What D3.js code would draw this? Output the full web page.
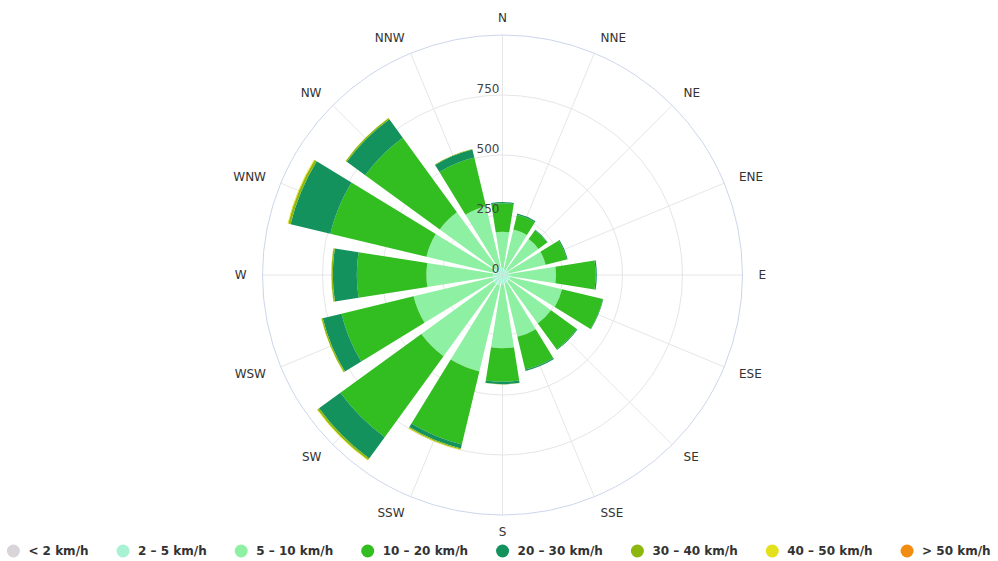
<!DOCTYPE html>
<html>
<head>
<meta charset="utf-8">
<script src="https://cdn.jsdelivr.net/npm/d3@7"></script>
<style>
  body { margin: 0; background: #fff; }
  text { font-family: "DejaVu Sans", sans-serif; }
</style>
</head>
<body>
<svg id="chart"></svg>
<script>
// wind directions, clockwise from north
const directions = ["N","NNE","NE","ENE","E","ESE","SE","SSE","S","SSW","SW","WSW","W","WNW","NW","NNW"];
const speedNames = ["< 2 km/h","2 – 5 km/h","5 – 10 km/h","10 – 20 km/h","20 – 30 km/h","30 – 40 km/h","40 – 50 km/h","> 50 km/h"];
const speedColors = ["#d8d4d8","#a8f2d4","#8ef0a2","#32bd20","#13925e","#8cb70c","#e3e01c","#f28c10"];
const radialTicks = [0, 250, 500, 750];

// counts per direction for each speed band
const below2  = [4,3,3,3,4,4,4,4,5,6,6,6,5,5,5,4];
const s2to5   = [25,22,22,24,28,30,30,32,35,40,40,38,34,34,32,30];
const s5to10  = [151,170,160,158,191,221,216,229,265,367,372,337,278,287,286,261];
const s10to20 = [119,63,45,90,165,175,133,140,140,313,417,309,290,412,384,208];
const s20to30 = [5,5,3,4,5,2,3,6,10,17,110,80,100,170,95,35];
const s30to40 = [0,0,0,0,0,0,0,0,1,5,8,6,6,10,6,2];
const s40to50 = [0,0,0,0,0,0,0,0,0,2,3,1,1,3,1,0];
const above50 = [0,0,0,0,0,0,0,0,0,0,0,0,0,0,0,0];

const W = 998, H = 561;
const cx = 502.5, cy = 275, outerR = 240;

const svg = d3.select("#chart").attr("width", W).attr("height", H);

const bands = [below2, s2to5, s5to10, s10to20, s20to30, s30to40, s40to50, above50];
const table = directions.map((d, i) => {
  const row = {dir: d};
  speedNames.forEach((k, j) => row[k] = bands[j][i]);
  return row;
});
const stacked = d3.stack().keys(speedNames)(table);

const r = d3.scaleLinear().domain([0, 1000]).range([0, outerR]);
const step = 2 * Math.PI / directions.length;
const angle = d3.scalePoint().domain(directions).range([0, 2 * Math.PI - step]);
const half = step * 0.4;

const g = svg.append("g").attr("transform", `translate(${cx},${cy})`);

// grid circles
g.selectAll("circle.grid")
  .data(radialTicks.filter(t => t > 0))
  .join("circle")
  .attr("r", d => r(d))
  .attr("fill", "none")
  .attr("stroke", "#e6e6e6");

// spokes
g.selectAll("line.spoke")
  .data(directions)
  .join("line")
  .attr("x1", 0).attr("y1", 0)
  .attr("x2", d => outerR * Math.sin(angle(d)))
  .attr("y2", d => -outerR * Math.cos(angle(d)))
  .attr("stroke", "#e6e6e6");

// outer axis circle
g.append("circle")
  .attr("r", outerR)
  .attr("fill", "none")
  .attr("stroke", "#ccd6eb");

const arc = d3.arc()
  .innerRadius(d => r(d[0]))
  .outerRadius(d => r(d[1]))
  .startAngle(d => angle(d.data.dir) - half)
  .endAngle(d => angle(d.data.dir) + half);

g.selectAll("g.series")
  .data(stacked)
  .join("g")
  .attr("fill", (d, i) => speedColors[i])
  .selectAll("path")
  .data(d => d.filter(p => p[1] > p[0]))
  .join("path")
  .attr("d", arc);

// radial tick labels
g.selectAll("text.tick")
  .data(radialTicks)
  .join("text")
  .attr("x", -3)
  .attr("y", d => -r(d) - 2)
  .attr("text-anchor", "end")
  .attr("font-size", 12)
  .attr("fill", "#444")
  .text(d => d);

// direction labels
g.selectAll("text.dir")
  .data(directions)
  .join("text")
  .attr("x", d => 256 * Math.sin(angle(d)))
  .attr("y", d => -257 * Math.cos(angle(d)))
  .attr("dy", "0.35em")
  .attr("text-anchor", d => {
    const s = Math.sin(angle(d));
    return Math.abs(s) < 0.2 ? "middle" : (s > 0 ? "start" : "end");
  })
  .attr("font-size", 12)
  .attr("fill", "#333")
  .text(d => d);

// legend
const legend = svg.append("g");
const items = legend.selectAll("g")
  .data(speedNames)
  .join("g");
items.append("circle")
  .attr("r", 6.5)
  .attr("fill", (d, i) => speedColors[i]);
items.append("text")
  .attr("x", 15)
  .attr("dy", "0.35em")
  .attr("font-size", 12)
  .attr("font-weight", "bold")
  .attr("fill", "#333")
  .text(d => d);

const gap = 28;
let xpos = 0;
items.each(function() {
  d3.select(this).attr("transform", `translate(${xpos},0)`);
  xpos += this.getBBox().width + gap;
});
const total = xpos - gap - 6.5;
legend.attr("transform", `translate(${(W - total) / 2 + 3},551)`);
</script>
</body>
</html>
